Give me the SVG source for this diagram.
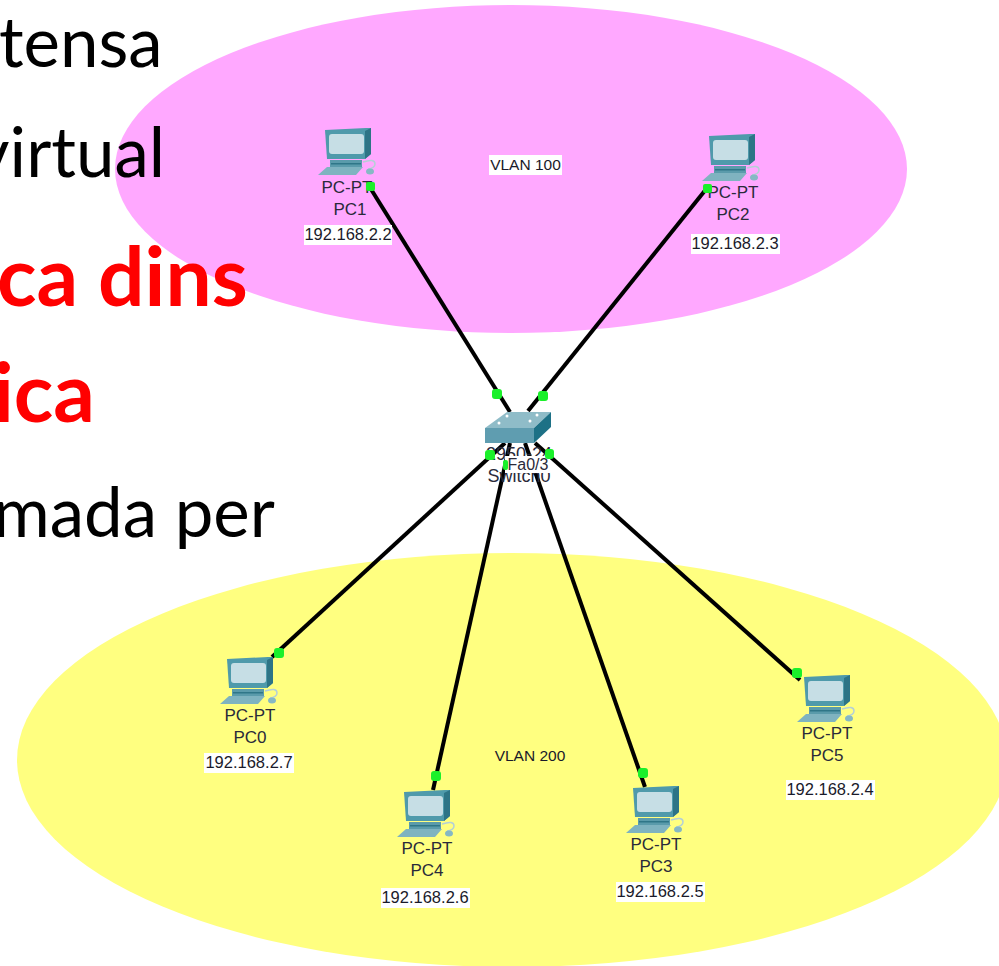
<svg xmlns="http://www.w3.org/2000/svg" width="999" height="966" viewBox="0 0 999 966">
<style>
.big{font-family:"Lato","Open Sans","Liberation Sans",sans-serif;font-size:69px;fill:#000}
.red{font-family:"Lato","Open Sans","Liberation Sans",sans-serif;font-size:82px;font-weight:700;fill:#ff0000}
.lbl{font-family:"Liberation Sans",Arial,sans-serif;font-size:17px;fill:#2a2a3a;text-anchor:middle}
.sw{font-family:"Liberation Sans",Arial,sans-serif;font-size:18px;fill:#2a2a3a;text-anchor:middle}
.ip{font-family:"Liberation Sans",Arial,sans-serif;font-size:16.500px;fill:#1a1a2a;text-anchor:middle}
.vl{font-family:"Liberation Sans",Arial,sans-serif;font-size:15.500px;fill:#1a1a2a;text-anchor:middle}
.bg{fill:#fff}
.link{stroke:#000;stroke-width:4;fill:none}
.dot{fill:#1af02a}
</style>
<defs>
<g id="pc">
<path d="M7 2 L48 0 L53 0 L53 26 L47 31 L9 31 Z" fill="#4f9aab"/>
<path d="M47 3 L53 0 L53 26 L47 31 Z" fill="#2d7486"/>
<rect x="11" y="6" width="35" height="20" rx="3" fill="#c6dee5"/>
<path d="M12 32 H44 V39 H12 Z" fill="#5a9bab"/>
<path d="M13 35 H43 V36.500 H13 Z" fill="#2f7688"/>
<path d="M9 39 H45 L38 47 H0 Z" fill="#7fb3c0"/>
<path d="M45 34 q12 -4 12 2 q0 4 -7 5" fill="none" stroke="#b5d0d6" stroke-width="1.500"/>
<ellipse cx="52" cy="43.500" rx="4" ry="3" fill="#86b8c4"/>
</g>
</defs>
<rect width="999" height="966" fill="#fff"/>
<g id="vlan100"><ellipse cx="511" cy="169" rx="396" ry="164" fill="#ffa8ff"/><rect class="bg" x="489" y="155" width="73" height="20"/><text class="vl" x="525.500" y="170">VLAN 100</text></g>
<g id="vlan200"><ellipse cx="512" cy="760" rx="495" ry="207" fill="#ffff80"/><text class="vl" x="530" y="761">VLAN 200</text></g>
<g id="slide-text">
<text class="big" x="-1" y="67">tensa</text>
<text class="big" x="-26" y="177">virtual</text>
<text class="big" x="-7" y="537">mada per</text>
<text class="red" x="-3" y="306">ca dins</text>
<text class="red" x="-7" y="422">ica</text>
</g>
<g id="connectors">
<path class="link" d="M369 186 L510 412"/>
<path class="link" d="M707 188 L528 411"/>
<path class="link" d="M272 657 L505 443"/>
<path class="link" d="M433 790 L510 443"/>
<path class="link" d="M645 787 L525 443"/>
<path class="link" d="M800 680 L535 443"/>
</g>
<g id="switch0">
<path d="M485 428 L507 412 H551 L534 428 Z" fill="#8fbcc8"/>
<path d="M485 428 H534 V443 H485 Z" fill="#5f9db0"/>
<path d="M534 428 L551 412 V427 L534 443 Z" fill="#1d7186"/>
<circle cx="507" cy="416" r="1.500" fill="#fff"/><circle cx="537" cy="415" r="1.500" fill="#fff"/><circle cx="499" cy="423" r="1.500" fill="#fff"/><circle cx="530" cy="421" r="1.500" fill="#fff"/>
<text class="sw" x="519" y="460">2950-24</text>
<text class="sw" x="519" y="482">Switch0</text>
<rect class="bg" x="505" y="456" width="45" height="17"/>
<text class="lbl" x="528" y="470" style="font-size:16px">Fa0/3</text>
</g>
<g id="pc1"><use href="#pc" x="318" y="128"/><text class="lbl" x="347" y="193">PC-PT</text><text class="lbl" x="350" y="215">PC1</text><rect class="bg" x="304" y="225" width="88" height="20"/><text class="ip" x="348" y="240">192.168.2.2</text></g>
<g id="pc2"><use href="#pc" x="702" y="134"/><text class="lbl" x="733" y="198">PC-PT</text><text class="lbl" x="733" y="220">PC2</text><rect class="bg" x="691" y="234" width="89" height="20"/><text class="ip" x="735" y="249">192.168.2.3</text></g>
<g id="pc0"><use href="#pc" x="220" y="657"/><text class="lbl" x="250" y="721">PC-PT</text><text class="lbl" x="250" y="743">PC0</text><rect class="bg" x="204" y="753" width="90" height="20"/><text class="ip" x="249" y="768">192.168.2.7</text></g>
<g id="pc4"><use href="#pc" x="397" y="790"/><text class="lbl" x="427" y="854">PC-PT</text><text class="lbl" x="427" y="876">PC4</text><rect class="bg" x="381" y="888" width="89" height="20"/><text class="ip" x="425" y="903">192.168.2.6</text></g>
<g id="pc3"><use href="#pc" x="626" y="786"/><text class="lbl" x="656" y="850">PC-PT</text><text class="lbl" x="656" y="872">PC3</text><rect class="bg" x="616" y="882" width="89" height="20"/><text class="ip" x="660" y="897">192.168.2.5</text></g>
<g id="pc5"><use href="#pc" x="797" y="675"/><text class="lbl" x="827" y="739">PC-PT</text><text class="lbl" x="827" y="761">PC5</text><rect class="bg" x="786" y="780" width="89" height="20"/><text class="ip" x="830" y="795">192.168.2.4</text></g>
<g id="link-lights">
<rect class="dot" x="366" y="182" width="9" height="9" rx="2"/><rect class="dot" x="703" y="184" width="9" height="9" rx="2"/>
<rect class="dot" x="492" y="389" width="10" height="10" rx="3"/><rect class="dot" x="538" y="391" width="10" height="10" rx="3"/>
<rect class="dot" x="485" y="450" width="10" height="10" rx="3"/><rect class="dot" x="503" y="460" width="5" height="10" rx="2"/><rect class="dot" x="545" y="449" width="9" height="10" rx="3"/>
<rect class="dot" x="274" y="648" width="10" height="10" rx="3"/><rect class="dot" x="431" y="771" width="10" height="10" rx="3"/><rect class="dot" x="638" y="768" width="10" height="10" rx="3"/><rect class="dot" x="792" y="668" width="10" height="10" rx="3"/>
</g>
</svg>
